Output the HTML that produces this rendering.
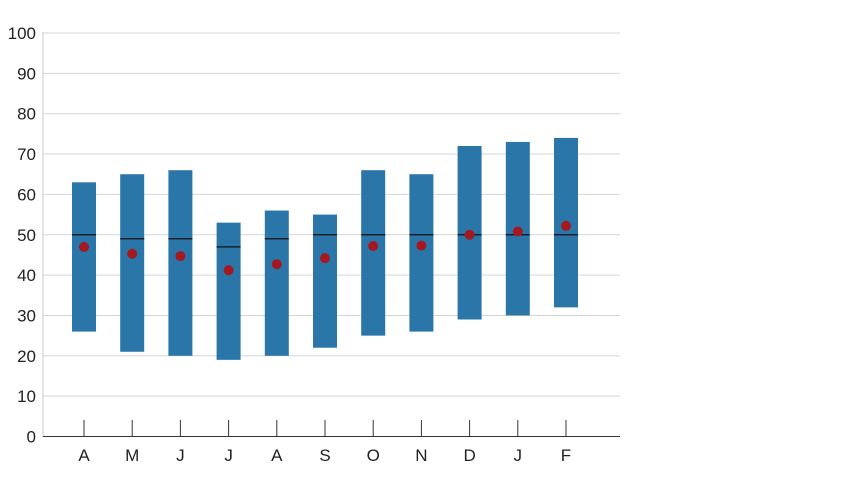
<!DOCTYPE html>
<html><head><meta charset="utf-8"><style>
body{margin:0;background:#fff;}
svg text{font-family:"Liberation Sans",sans-serif;font-size:17px;fill:#222;}
</style></head><body>
<svg id="chart" width="850" height="488" viewBox="0 0 850 488"></svg>
<script>
const categories=["A","M","J","J","A","S","O","N","D","J","F"];
const lows=[26,21,20,19,20,22,25,26,29,30,32];
const highs=[63,65,66,53,56,55,66,65,72,73,74];
const medians=[50,49,49,47,49,50,50,50,50,50,50];
const means=[47,45.3,44.7,41.2,42.7,44.2,47.2,47.3,50,50.8,52.2];
const yTicks=[0,10,20,30,40,50,60,70,80,90,100];
const NS="http://www.w3.org/2000/svg";
const svg=document.getElementById('chart');
const y=v=>436.5-v*4.035;
const x=i=>84+i*48.2;
function mk(tag,attrs){const e=document.createElementNS(NS,tag);for(const k in attrs)e.setAttribute(k,attrs[k]);svg.appendChild(e);return e;}
yTicks.forEach(t=>{
  if(t>0){const g=mk('line',{x1:43,x2:620,y1:y(t),y2:y(t),stroke:'#d6d6d6','stroke-width':1});
  
  }
  const tx=mk('text',{x:36,y:y(t)+6,'text-anchor':'end'});tx.textContent=t;
  
  
});
const ya=mk('line',{x1:43,x2:43,y1:32,y2:436.5,stroke:'#c5cdd6','stroke-width':1});


const xa=mk('line',{x1:43,x2:620,y1:436.5,y2:436.5,stroke:'#333','stroke-width':1});


categories.forEach((c,i)=>{
  const cx=x(i);
  const tk=mk('line',{x1:cx,x2:cx,y1:420,y2:436,stroke:'#333','stroke-width':1});
  
  
  const r=mk('rect',{x:cx-12,y:y(highs[i]),width:24,height:y(lows[i])-y(highs[i]),fill:'#2a76a8'});
  
  
  const m=mk('line',{x1:cx-12,x2:cx+12,y1:y(medians[i]),y2:y(medians[i]),stroke:'#111','stroke-width':1.2});
  
  
  const d=mk('circle',{cx:cx,cy:y(means[i]),r:5,fill:'#a3191f'});
  
  
  const t=mk('text',{x:cx,y:461,'text-anchor':'middle'});t.textContent=c;
  
  
});
</script>
</body></html>
